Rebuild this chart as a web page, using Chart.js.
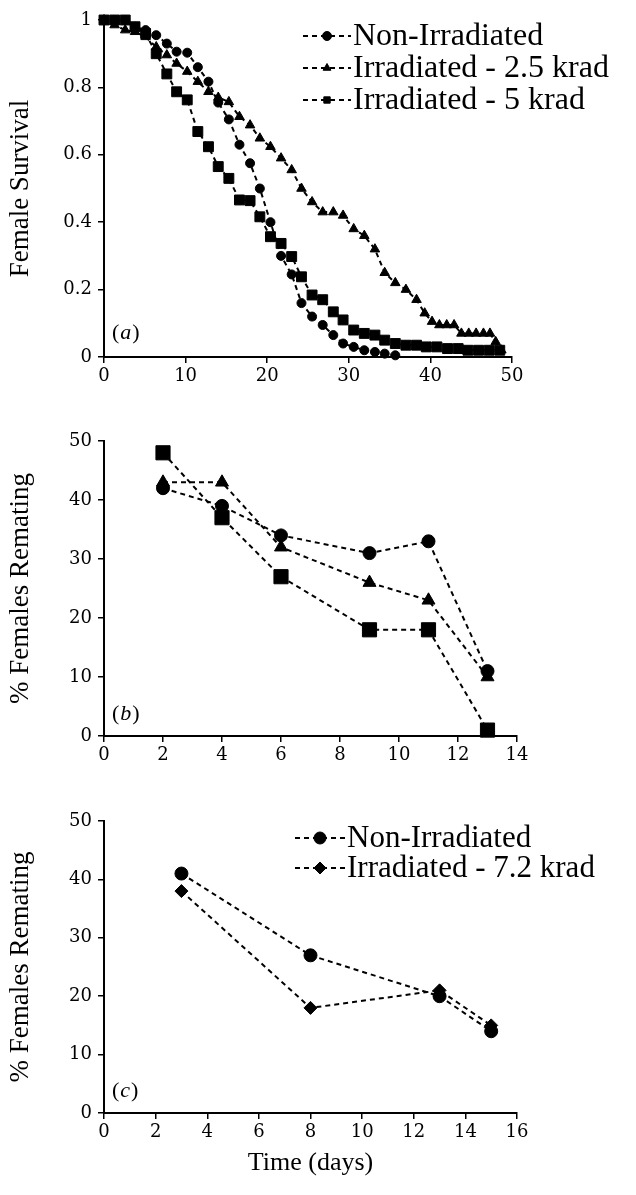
<!DOCTYPE html>
<html>
<head>
<meta charset="utf-8">
<script src="https://cdn.jsdelivr.net/npm/chart.js@4.4.1/dist/chart.umd.min.js"></script>
<style>
html, body { margin: 0; padding: 0; background: #fff; }
#wrap { position: relative; width: 636px; height: 1195px; }
canvas { position: absolute; left: 0; }
</style>
</head>
<body>
<div id="wrap">
  <canvas id="chartA" width="636" height="400" style="top:0px"></canvas>
  <canvas id="chartB" width="636" height="390" style="top:400px"></canvas>
  <canvas id="chartC" width="636" height="405" style="top:790px"></canvas>
</div>
<script>
// (a) female survival — x positions
const survivalDays = [0, 1.3, 2.6, 3.8, 5.1, 6.4, 7.7, 8.9, 10.2, 11.5, 12.8, 14.0, 15.3, 16.6, 17.9, 19.1,
  20.4, 21.7, 23.0, 24.2, 25.5, 26.8, 28.1, 29.3, 30.6, 31.9, 33.2, 34.4, 35.7, 37.0, 38.3, 39.5, 40.8, 42.1,
  43.4, 44.6, 45.9, 47.2, 48.5];
const survivalDays25 = [0, 1.3, 2.6, 3.8, 5.1, 6.4, 7.7, 8.9, 10.2, 11.5, 12.8, 14.0, 15.3, 16.6, 17.9, 19.1,
  20.4, 21.7, 23.0, 24.2, 25.5, 26.8, 28.1, 29.3, 30.6, 31.9, 33.2, 34.4, 35.7, 37.0, 38.3, 39.3, 40.2, 41.1,
  42.0, 42.9, 43.8, 44.7, 45.6, 46.5, 47.3, 48.0, 48.7];
const survivalNonIrr = [1, 1, 1, 0.98, 0.97, 0.955, 0.93, 0.906, 0.903, 0.86, 0.817, 0.755, 0.705, 0.63,
  0.575, 0.5, 0.4, 0.3, 0.245, 0.16, 0.12, 0.095, 0.065, 0.04, 0.03, 0.02, 0.015, 0.01, 0.005];
const survival25krad = [1, 0.985, 0.97, 0.965, 0.95, 0.92, 0.896, 0.871, 0.847, 0.817, 0.787, 0.77, 0.757,
  0.713, 0.688, 0.649, 0.624, 0.59, 0.555, 0.5, 0.46, 0.43, 0.43, 0.42, 0.38, 0.36, 0.32, 0.25, 0.22, 0.2,
  0.17, 0.13, 0.105, 0.095, 0.095, 0.095, 0.07, 0.07, 0.07, 0.07, 0.07, 0.045, 0.02];
const survival5krad = [1, 1, 1, 0.98, 0.96, 0.9, 0.84, 0.787, 0.763, 0.669, 0.624, 0.565, 0.53, 0.466, 0.464,
  0.416, 0.357, 0.337, 0.298, 0.238, 0.184, 0.17, 0.134, 0.11, 0.08, 0.07, 0.065, 0.05, 0.04, 0.035, 0.035,
  0.03, 0.03, 0.025, 0.025, 0.02, 0.02, 0.02, 0.02];

// (b) remating, 2.5 and 5 krad
const rematingDaysB = [2, 4, 6, 9, 11, 13];
const rematingNonIrrB = [42, 39, 34, 31, 33, 11];
const remating25kradB = [43, 43, 32, 26, 23, 10];
const remating5kradB = [48, 37, 27, 18, 18, 1];

// (c) remating, 7.2 krad
const rematingDaysC = [3, 8, 13, 15];
const rematingNonIrrC = [41, 27, 20, 14];
const remating72kradC = [38, 18, 21, 15];

const serif = '"Liberation Serif", "Times New Roman", serif';
const tickFont = { family: '"DejaVu Serif", serif', size: 18 };

function pairs(xs, ys) {
  return ys.map((v, i) => ({ x: xs[i], y: v }));
}

function series(label, xs, ys, style, radius) {
  return {
    label: label,
    data: pairs(xs, ys),
    pointStyle: style,
    pointRadius: radius,
    pointHoverRadius: radius,
    pointBackgroundColor: '#000',
    pointBorderColor: '#000',
    pointBorderWidth: 1,
    borderColor: '#000',
    borderWidth: 2,
    borderDash: [5, 4],
    fill: false,
    tension: 0,
    clip: false
  };
}

// legend with dashed line + marker, and the italic panel tag
const panelDecor = {
  id: 'panelDecor',
  afterDatasetsDraw(chart, args, opts) {
    const ctx = chart.ctx;
    const area = chart.chartArea;
    ctx.save();
    ctx.fillStyle = '#000';
    ctx.strokeStyle = '#000';
    if (opts.tag) {
      let x = area.left + opts.tagDx;
      const y = area.bottom - opts.tagDy;
      ctx.textBaseline = 'alphabetic';
      ctx.textAlign = 'left';
      ctx.font = '22px ' + serif;
      ctx.fillText('(', x, y);
      x += ctx.measureText('(').width + 1;
      ctx.font = 'italic 22px ' + serif;
      ctx.fillText(opts.tag, x, y);
      x += ctx.measureText(opts.tag).width + 1;
      ctx.font = '22px ' + serif;
      ctx.fillText(')', x, y);
    }
    const L = opts.legend;
    if (L) {
      chart.data.datasets.forEach((ds, i) => {
        const y = L.y + i * L.rowGap;
        ctx.lineWidth = 2;
        ctx.setLineDash([5, 4]);
        ctx.beginPath();
        ctx.moveTo(L.x, y);
        ctx.lineTo(L.x + L.lineLen, y);
        ctx.stroke();
        ctx.setLineDash([]);
        ctx.lineWidth = 1;
        Chart.helpers.drawPoint(ctx, { pointStyle: ds.pointStyle, radius: L.radius, rotation: 0, borderWidth: 1 },
          L.x + L.lineLen / 2, y);
        ctx.font = L.fontSize + 'px ' + serif;
        ctx.textBaseline = 'middle';
        ctx.textAlign = 'left';
        ctx.fillText(ds.label, L.x + L.lineLen + 2, y + 1);
      });
    }
    ctx.restore();
  }
};

function axes(xMax, xStep, yMax, yStep, yTitle, xTitle, fit) {
  return {
    x: {
      type: 'linear', min: 0, max: xMax,
      ticks: { stepSize: xStep, color: '#000', font: tickFont, padding: 3, maxRotation: 0 },
      grid: { drawOnChartArea: false, drawTicks: true, tickLength: 6, color: '#000', lineWidth: 1.5 },
      border: { display: true, color: '#000', width: 2 },
      title: { display: !!xTitle, text: xTitle || '', color: '#000', font: { family: serif, size: 26 },
        padding: { top: 0, bottom: fit.xTitlePad } },
      afterFit: (s) => { s.height = fit.xh; }
    },
    y: {
      min: 0, max: yMax,
      ticks: { stepSize: yStep, color: '#000', font: tickFont, padding: 6,
        callback: (v) => String(Math.round(v * 10) / 10) },
      grid: { drawOnChartArea: false, drawTicks: true, tickLength: 6, color: '#000', lineWidth: 1.5 },
      border: { display: true, color: '#000', width: 2 },
      title: { display: true, text: yTitle, color: '#000', font: { family: serif, size: 27 },
        padding: { top: 5, bottom: 0 } },
      afterFit: (s) => { s.width = 104; }
    }
  };
}

function makeChart(id, datasets, scales, pad, decor) {
  return new Chart(document.getElementById(id).getContext('2d'), {
    type: 'line',
    data: { datasets: datasets },
    options: {
      responsive: false,
      animation: false,
      layout: { padding: pad },
      plugins: { legend: { display: false }, tooltip: { enabled: false }, panelDecor: decor },
      scales: scales
    },
    plugins: [panelDecor]
  });
}

makeChart('chartA', [
  series('Non-Irradiated', survivalDays, survivalNonIrr, 'circle', 4.5),
  series('Irradiated - 2.5 krad', survivalDays25, survival25krad, 'triangle', 5.5),
  series('Irradiated - 5 krad', survivalDays, survival5krad, 'rect', 7)
], axes(50, 10, 1, 0.2, 'Female Survival', '', { xh: 43, xTitlePad: 0 }),
  { top: 20, right: 124, left: 0, bottom: 0 },
  { tag: 'a', tagDx: 8, tagDy: 18, legend: { x: 303, y: 36, rowGap: 32, lineLen: 48, radius: 4.5, fontSize: 32 } });

makeChart('chartB', [
  series('Non-Irradiated', rematingDaysB, rematingNonIrrB, 'circle', 6.5),
  series('Irradiated - 2.5 krad', rematingDaysB, remating25kradB, 'triangle', 7.5),
  series('Irradiated - 5 krad', rematingDaysB, remating5kradB, 'rect', 10)
], axes(14, 2, 50, 10, '% Females Remating', '', { xh: 54, xTitlePad: 0 }),
  { top: 41, right: 119, left: 0, bottom: 0 },
  { tag: 'b', tagDx: 8, tagDy: 16 });

makeChart('chartC', [
  series('Non-Irradiated', rematingDaysC, rematingNonIrrC, 'circle', 6.5),
  series('Irradiated - 7.2 krad', rematingDaysC, remating72kradC, 'rectRot', 6.5)
], axes(16, 2, 50, 10, '% Females Remating', 'Time (days)', { xh: 82, xTitlePad: 16 }),
  { top: 31, right: 119, left: 0, bottom: 0 },
  { tag: 'c', tagDx: 8, tagDy: 16, legend: { x: 295, y: 838 - 790, rowGap: 30, lineLen: 50, radius: 6, fontSize: 31 } });
</script>
</body>
</html>
